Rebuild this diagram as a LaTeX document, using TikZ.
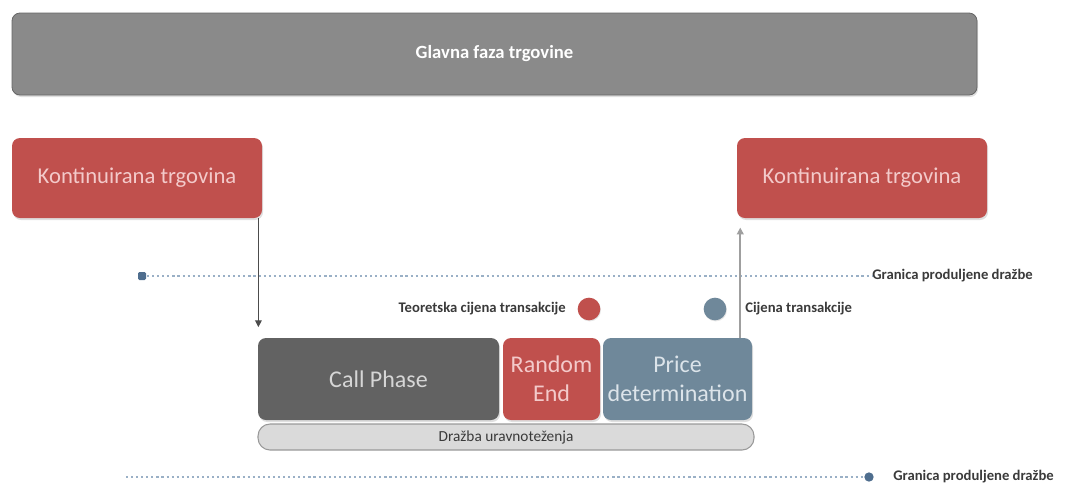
\documentclass[tikz,border=0pt]{standalone}
\usepackage{fontspec}
\setmainfont{Carlito}
\usetikzlibrary{shadows,arrows.meta}
\definecolor{topgray}{HTML}{8A8A8A}
\definecolor{kred}{HTML}{C0504D}
\definecolor{ktext}{HTML}{F3CACA}
\definecolor{callgray}{HTML}{626262}
\definecolor{calltext}{HTML}{D6D6D6}
\definecolor{pblue}{HTML}{6F889A}
\definecolor{ptext}{HTML}{DCE4EA}
\definecolor{barfill}{HTML}{DADADA}
\definecolor{dotblue}{HTML}{9AB0C6}
\definecolor{markblue}{HTML}{4F6E8E}
\definecolor{labeltext}{HTML}{3A3A3A}
\tikzset{
  phase/.style={rounded corners=6pt, inner sep=0pt, align=center,
    drop shadow={opacity=0.25, shadow xshift=0.8pt, shadow yshift=-1.5pt}},
  topbar/.style={phase, fill=topgray, draw=gray!80!black, line width=0.6pt, text=white,
    minimum width=723.75pt, minimum height=61.5pt, font=\bfseries\fontsize{14}{16}\selectfont},
  kbox/.style={phase, fill=kred, text=ktext, minimum width=187.5pt, minimum height=60pt,
    font=\fontsize{17}{20}\selectfont},
  callbox/.style={phase, fill=callgray, text=calltext, minimum height=61.5pt,
    font=\fontsize{18}{21.5}\selectfont},
  auction/.style={rounded corners=9pt, fill=barfill, draw=gray!80, line width=0.8pt,
    minimum width=372pt, minimum height=19.5pt, inner sep=0pt, text=labeltext,
    font=\fontsize{11.5}{13}\selectfont},
  dotline/.style={dotblue, line width=1.6pt, dash pattern=on 1.6pt off 2.2pt},
  lbl/.style={inner sep=0pt, text=labeltext, font=\bfseries\fontsize{11}{13}\selectfont},
  flow/.style={draw=gray!60!black, line width=0.7pt, -{Triangle[length=5pt,width=5pt]}},
  pricedot/.style={circle, minimum size=17pt, inner sep=0pt,
    drop shadow={opacity=0.2, shadow xshift=0.5pt, shadow yshift=-0.8pt}}
}
\begin{document}
\begin{tikzpicture}[x=0.75pt, y=-0.75pt]
\useasboundingbox (0,0) rectangle (1073,501);
% top phase
\node[topbar] (main) at (494.5,54) {Glavna faza trgovine};
% continuous trading boxes
\node[kbox] (kl) at (137,178) {Kontinuirana trgovina};
\node[kbox] (kr) at (862,178) {Kontinuirana trgovina};
% extended auction boundaries
\coordinate (s1) at (142,276);
\node[lbl, anchor=west] (g1) at (872,276) {Granica produljene dražbe};
\draw[dotline] (s1) -- (g1.west);
\node[fill=markblue, minimum size=6pt, inner sep=0pt, rounded corners=1pt] (m1) at (s1) {};
\coordinate (s2) at (126,477);
\node[circle, fill=markblue, minimum size=7pt, inner sep=0pt] (m2) at (869,477) {};
\node[lbl, anchor=west] (g2) at (893,477) {Granica produljene dražbe};
\draw[dotline] (s2) -- (m2.west);
% call phase blocks
\node[callbox, minimum width=180.75pt] (cp) at (378.5,379) {Call Phase};
\node[callbox, fill=kred, text=ktext, minimum width=72.75pt] (re) at (551.5,379) {Random\\End};
\node[callbox, fill=pblue, text=ptext, minimum width=111.75pt] (pd) at (677.5,379) {Price\\determination};
\node[auction] (ura) at (506,437) {Dražba uravnoteženja};
% price markers
\node[pricedot, fill=kred] (rdot) at (589,309) {};
\node[lbl, anchor=east] (tct) at (566,309) {Teoretska cijena transakcije};
\node[pricedot, fill=pblue] (bdot) at (715,309) {};
\node[lbl, anchor=west] (ct) at (745,309) {Cijena transakcije};
% flow arrows
\coordinate (a1s) at (kl.south -| cp.north west);
\coordinate (a1e) at ([yshift=8pt]cp.north west);
\draw[flow] ([xshift=0.5pt]a1s) -- ([xshift=0.5pt]a1e);
\coordinate (a2s) at ([xshift=-9pt]pd.north east);
\coordinate (a2e) at ([yshift=-7pt]kr.south west -| a2s);
\draw[flow, draw=gray!75, line width=1.2pt] (a2s) -- (a2e);
\end{tikzpicture}
\end{document}
